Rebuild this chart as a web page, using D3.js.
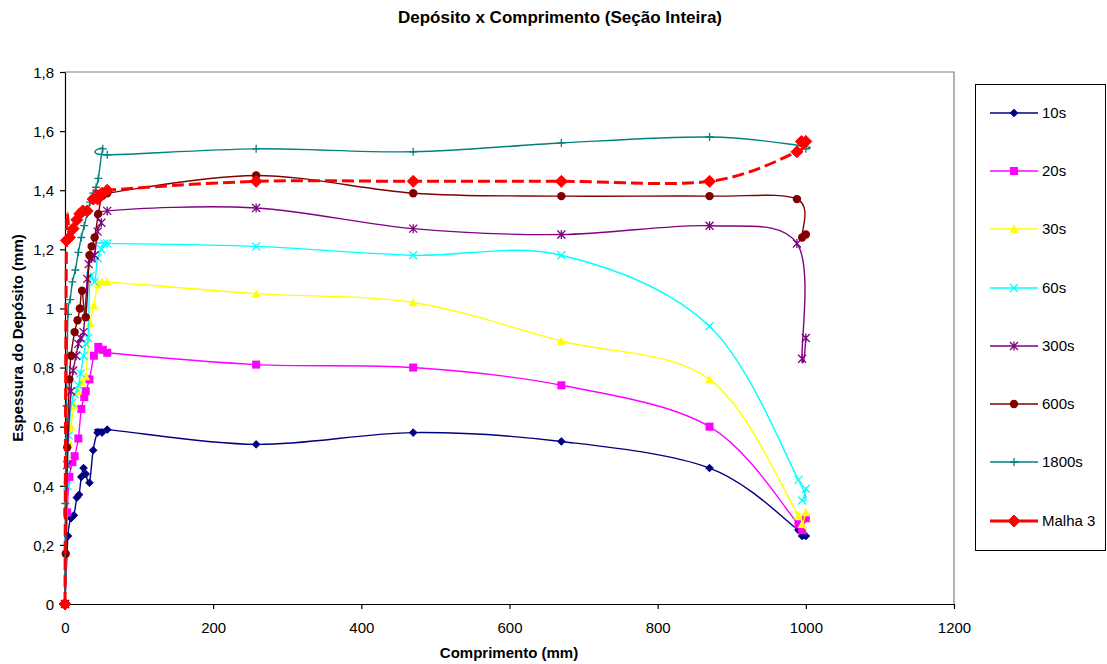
<!DOCTYPE html>
<html><head><meta charset="utf-8">
<script src="https://cdn.jsdelivr.net/npm/d3@7"></script>
<style>body{margin:0;background:#fff;font-family:"Liberation Sans",Arial,sans-serif}</style>
</head><body><svg id="c" width="1107" height="664"></svg>
<script>
const xTicks = [0,200,400,600,800,1000,1200];
const yTicks = [0,0.2,0.4,0.6,0.8,1,1.2,1.4,1.6,1.8];
const seriesNames = ["10s","20s","30s","60s","300s","600s","1800s","Malha 3"];
const s10 = [[0,0],[4,0.23],[8,0.29],[12,0.30],[16,0.36],[19,0.37],[22,0.43],[25,0.46],[28,0.44],[33,0.41],[38,0.52],[44,0.58],[50,0.58],[57,0.59],[258,0.54],[470,0.58],[670,0.55],[870,0.46],[990,0.25],[995,0.23],[1000,0.23]];
const s20 = [[0,0],[3,0.31],[6,0.43],[10,0.48],[13,0.50],[18,0.56],[22,0.66],[26,0.70],[28,0.72],[33,0.76],[39,0.84],[45,0.87],[51,0.86],[57,0.85],[258,0.81],[470,0.80],[670,0.74],[870,0.60],[990,0.27],[995,0.25],[1000,0.29]];
const s30 = [[0,0],[3,0.50],[5,0.55],[8,0.60],[12,0.67],[17,0.72],[22,0.75],[28,0.77],[34,0.95],[39,1.01],[44,1.08],[50,1.09],[57,1.09],[258,1.05],[470,1.02],[670,0.89],[870,0.76],[990,0.30],[995,0.27],[1000,0.31]];
const s60 = [[0,0],[3,0.40],[5,0.57],[9,0.68],[13,0.71],[18,0.74],[21,0.78],[25,0.84],[28,0.88],[31,0.90],[34,1.11],[40,1.09],[44,1.17],[49,1.20],[53,1.22],[57,1.22],[258,1.21],[470,1.18],[670,1.18],[870,0.94],[990,0.42],[995,0.35],[1000,0.39]];
const s300 = [[0,0],[3,0.47],[8,0.72],[11,0.79],[15,0.84],[18,0.88],[21,0.90],[25,0.92],[30,1.10],[32,1.15],[36,1.17],[40,1.18],[44,1.26],[49,1.29],[57,1.33],[258,1.34],[470,1.27],[670,1.25],[870,1.28],[988,1.22],[995,0.83],[1000,0.90]];
const s600 = [[0,0],[1,0.17],[3,0.53],[6,0.76],[8,0.84],[13,0.92],[17,0.96],[20,1.00],[23,1.06],[28,0.97],[33,1.18],[36,1.21],[40,1.24],[45,1.32],[50,1.38],[57,1.39],[258,1.45],[470,1.39],[670,1.38],[870,1.38],[988,1.37],[995,1.24],[1000,1.25]];
const s1800 = [[0,0],[0.5,0.34],[2,0.67],[4,0.98],[7,1.03],[10,1.09],[14,1.13],[18,1.19],[22,1.24],[26,1.28],[30,1.32],[34,1.36],[38,1.39],[42,1.41],[45,1.44],[51,1.54],[57,1.52],[258,1.54],[470,1.53],[670,1.56],[870,1.58],[995,1.55],[1000,1.54]];
const sMalha = [[0,0],[2,1.23],[6,1.24],[11,1.27],[16,1.30],[20,1.32],[24,1.33],[30,1.33],[38,1.37],[44,1.37],[50,1.39],[57,1.40],[258,1.43],[470,1.43],[670,1.43],[870,1.43],[988,1.53],[994,1.565],[1000,1.565]];
const seriesData = [s10,s20,s30,s60,s300,s600,s1800,sMalha];
const colors = ["#000080","#FF00FF","#FFFF00","#00FFFF","#800080","#800000","#008080","#FF0000"];
const markers = ["diamond","square","triangle","x","star","circle","plus","bigdiamond"];

const svg = d3.select("#c");
const L=65,R=954,T=72,B=604;
const x = d3.scaleLinear().domain([0,1200]).range([L,R]);
const y = d3.scaleLinear().domain([0,1.8]).range([B,T]);

svg.append("text").attr("x",560).attr("y",23).attr("text-anchor","middle")
  .attr("font-weight","bold").attr("font-size",17).text("Depósito x Comprimento (Seção Inteira)");

svg.append("path").attr("d",`M${L},${T}H${R}V${B}`).attr("fill","none").attr("stroke","#808080").attr("stroke-width",1.2);

const xa = svg.append("g").attr("transform",`translate(0,${B})`)
  .call(d3.axisBottom(x).tickValues(xTicks).tickSize(5).tickSizeOuter(0).tickFormat(d3.format("d")));
const ya = svg.append("g").attr("transform",`translate(${L},0)`)
  .call(d3.axisLeft(y).tickValues(yTicks).tickSize(5).tickSizeOuter(0).tickFormat(d=>d===0?"0":(d===1?"1":String(+d.toFixed(1)).replace(".",","))));
[xa,ya].forEach(a=>{a.selectAll("text").attr("font-size",15).attr("fill","#000").attr("font-family","Liberation Sans, Arial, sans-serif");
  a.selectAll("path,line").attr("stroke","#000").attr("stroke-width",1.2);});
xa.selectAll("text").attr("y",18).attr("dy","0.71em");
ya.selectAll("text").attr("x",-11).attr("dy","0.35em");

svg.append("text").attr("x",509).attr("y",657.5).attr("text-anchor","middle")
  .attr("font-weight","bold").attr("font-size",15).text("Comprimento (mm)");
svg.append("text").attr("transform","translate(22.5,338) rotate(-90)").attr("text-anchor","middle")
  .attr("font-weight","bold").attr("font-size",15).text("Espessura do Depósito (mm)");

function drawMarker(g,type,cx,cy,col){
  const s=g.append("g").attr("transform",`translate(${cx},${cy})`);
  if(type==="diamond") s.append("path").attr("d","M0,-3.8L3.8,0L0,3.8L-3.8,0Z").attr("fill",col).attr("stroke",col);
  else if(type==="bigdiamond") s.append("path").attr("d","M0,-6L6,0L0,6L-6,0Z").attr("fill",col).attr("stroke",col);
  else if(type==="square") s.append("rect").attr("x",-4).attr("y",-4).attr("width",8).attr("height",8).attr("fill",col);
  else if(type==="triangle") s.append("path").attr("d","M0,-4.5L4.5,3.8L-4.5,3.8Z").attr("fill",col);
  else if(type==="circle") s.append("circle").attr("r",4.2).attr("fill",col);
  else if(type==="x") s.append("path").attr("d","M-4,-4L4,4M-4,4L4,-4").attr("stroke",col).attr("stroke-width",1.3);
  else if(type==="plus") s.append("path").attr("d","M-4,0H4M0,-4V4").attr("stroke",col).attr("stroke-width",1.3);
  else if(type==="star") s.append("path").attr("d","M-4,-4L4,4M-4,4L4,-4M0,-4.5V4.5").attr("stroke",col).attr("stroke-width",1.3);
}

const line = d3.line().x(d=>x(d[0])).y(d=>y(d[1])).curve(d3.curveCardinal.tension(0));
seriesData.forEach((data,i)=>{
  const g=svg.append("g");
  const isM = i===7;
  g.append("path").attr("d",line(data)).attr("fill","none").attr("stroke",colors[i])
    .attr("stroke-width",isM?3:1.4).attr("stroke-dasharray",isM?"12,5":null);
  data.forEach(d=>drawMarker(g,markers[i],x(d[0]),y(d[1]),colors[i]));
});

svg.append("rect").attr("x",975.5).attr("y",84.5).attr("width",130).attr("height",466).attr("fill","none").attr("stroke","#000").attr("stroke-width",1);
const legY=[113,171,229,288,346,404,462,521];
seriesNames.forEach((n,i)=>{
  const g=svg.append("g");
  const isM=i===7;
  g.append("line").attr("x1",990).attr("x2",1038).attr("y1",legY[i]).attr("y2",legY[i]).attr("stroke",colors[i]).attr("stroke-width",isM?3:1.4);
  drawMarker(g,markers[i],1014,legY[i],colors[i]);
  g.append("text").attr("x",1042).attr("y",legY[i]+5.4).attr("font-size",15).text(n);
});
</script></body></html>
